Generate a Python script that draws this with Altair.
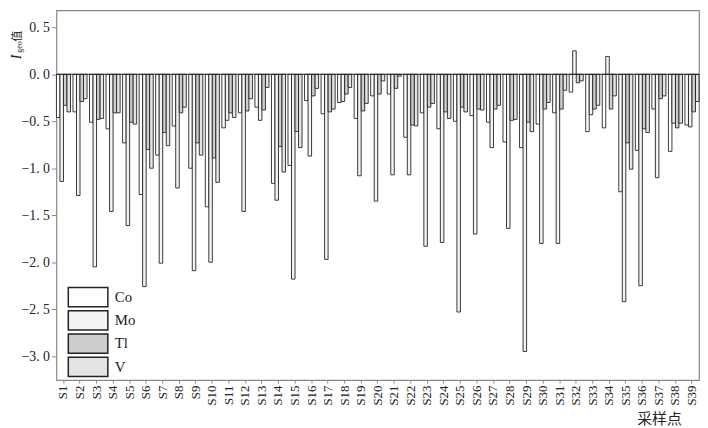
import altair as alt
import pandas as pd

sites = ["S1", "S2", "S3", "S4", "S5", "S6", "S7", "S8", "S9", "S10",
         "S11", "S12", "S13", "S14", "S15", "S16", "S17", "S18", "S19", "S20",
         "S21", "S22", "S23", "S24", "S25", "S26", "S27", "S28", "S29", "S30",
         "S31", "S32", "S33", "S34", "S35", "S36", "S37", "S38", "S39"]
elements = ["Co", "Mo", "Tl", "V"]

Co = [-0.46, -0.40, -0.51, -0.58, -0.73, -1.28, -0.86, -0.55, -1.00, -1.41,
      -0.57, -0.41, -0.35, -1.16, -0.97, -0.28, -0.42, -0.30, -0.47, -0.23,
      -0.21, -0.67, -0.41, -0.58, -0.50, -0.44, -0.51, -0.72, -0.78, -0.53,
      -0.41, -0.19, -0.61, -0.57, -1.25, -0.81, -0.37, -0.82, -0.54]
Mo = [-1.14, -1.29, -2.05, -1.46, -1.61, -2.26, -2.01, -1.21, -2.09, -2.00,
      -0.49, -1.46, -0.49, -1.34, -2.18, -0.87, -1.97, -0.29, -1.08, -1.35,
      -1.07, -1.07, -1.83, -1.79, -2.53, -1.70, -0.78, -1.64, -2.95, -1.80,
      -1.80, 0.25, -0.43, 0.19, -2.42, -2.25, -1.10, -0.52, -0.56]
Tl = [-0.33, -0.29, -0.48, -0.41, -0.51, -0.80, -0.62, -0.41, -0.73, -0.89,
      -0.41, -0.39, -0.38, -0.77, -0.61, -0.23, -0.40, -0.21, -0.39, -0.21,
      -0.15, -0.54, -0.35, -0.40, -0.35, -0.37, -0.37, -0.49, -0.51, -0.37,
      -0.37, -0.09, -0.37, -0.37, -0.73, -0.58, -0.26, -0.57, -0.40]
V = [-0.40, -0.26, -0.47, -0.41, -0.53, -1.00, -0.76, -0.35, -0.86, -1.15,
     -0.46, -0.26, -0.14, -1.04, -0.78, -0.15, -0.37, -0.14, -0.31, -0.07,
     -0.02, -0.55, -0.31, -0.47, -0.40, -0.38, -0.33, -0.48, -0.61, -0.30,
     -0.17, -0.07, -0.33, -0.23, -1.01, -0.62, -0.23, -0.52, -0.29]

y_ticks = [-3.0, -2.75, -2.5, -2.25, -2.0, -1.75, -1.5, -1.25, -1.0, -0.75,
           -0.5, -0.25, 0.0, 0.25, 0.5]
fills = ["#ffffff", "#f3f3f3", "#cdcdcd", "#e4e4e4"]

rows = []
for name, vals in zip(elements, [Co, Mo, Tl, V]):
    for s, v in zip(sites, vals):
        rows.append({"site": s, "element": name, "value": v})
df = pd.DataFrame(rows)

serif = "Liberation Serif"
cjk = "Noto Sans CJK SC"

bars = alt.Chart(df).mark_bar(stroke="#222", strokeWidth=0.9).encode(
    x=alt.X("site:N", sort=sites,
            scale=alt.Scale(paddingInner=0.15, paddingOuter=0),
            axis=alt.Axis(title="采样点", labelAngle=270, labelAlign="right",
                          labelBaseline="middle", labelFont=serif,
                          labelFontSize=13, labelColor="#222", labelPadding=2,
                          tickSize=3, tickColor="#888", domain=False,
                          titleFont=cjk, titleFontSize=15,
                          titleFontWeight="normal", titleColor="#222",
                          titleAlign="right", titleBaseline="middle",
                          titleX=632, titleY=39)),
    xOffset=alt.XOffset("element:N", sort=elements,
                        scale=alt.Scale(domain=elements, paddingInner=0,
                                        paddingOuter=0)),
    y=alt.Y("value:Q",
            scale=alt.Scale(domain=[-3.255, 0.68], nice=False, zero=False),
            axis=alt.Axis(title=None, values=y_ticks, grid=False,
                          domain=False, tickColor="#888",
                          tickSize={"condition": {"test": "abs(datum.value*2 - round(datum.value*2)) < 0.001", "value": 5}, "value": 3},
                          labelExpr="abs(datum.value*2 - round(datum.value*2)) < 0.001 ? replace(format(datum.value, '.1f'), '.', '. ') : ''",
                          labelFont=serif, labelFontSize=14,
                          labelColor="#222", labelPadding=2)),
    fill=alt.Fill("element:N", sort=elements,
                  scale=alt.Scale(domain=elements, range=fills),
                  legend=alt.Legend(title=None, orient="none", legendX=23.5,
                                    legendY=281.5,
                                    symbolType="M-2.667,-1.3H2.667V1.3H-2.667Z",
                                    symbolSize=225,
                                    symbolStrokeColor="#222",
                                    symbolStrokeWidth=1.5,
                                    labelFont=serif, labelFontSize=15,
                                    labelColor="#222", labelOffset=18.5,
                                    rowPadding=-3.5, padding=0)),
)

zero = alt.Chart(pd.DataFrame({"z": [0]})).mark_rule(
    color="#222", strokeWidth=1).encode(y=alt.datum(0))

t_i = alt.Chart(pd.DataFrame({"t": ["I"]})).mark_text(
    angle=270, font=serif, fontStyle="italic", fontSize=14, align="center",
    baseline="middle", color="#222").encode(
    text="t:N", x=alt.value(-40), y=alt.value(47))
t_geo = alt.Chart(pd.DataFrame({"t": ["geo"]})).mark_text(
    angle=270, font=serif, fontSize=8, align="center", baseline="middle",
    color="#222").encode(text="t:N", x=alt.value(-36.5), y=alt.value(37))
t_val = alt.Chart(pd.DataFrame({"t": ["值"]})).mark_text(
    angle=270, font=cjk, fontSize=11, align="center", baseline="middle",
    color="#222").encode(text="t:N", x=alt.value(-39), y=alt.value(26))

chart = alt.layer(bars, zero, t_i, t_geo, t_val).properties(
    width=650, height=374,
    autosize=alt.AutoSizeParams(type="none"),
    padding={"left": 49, "top": 0, "right": 1, "bottom": 46},
).configure_view(stroke="#888", strokeWidth=1.2)

chart.save("out.html", embed_options={"renderer": "svg", "actions": False})
